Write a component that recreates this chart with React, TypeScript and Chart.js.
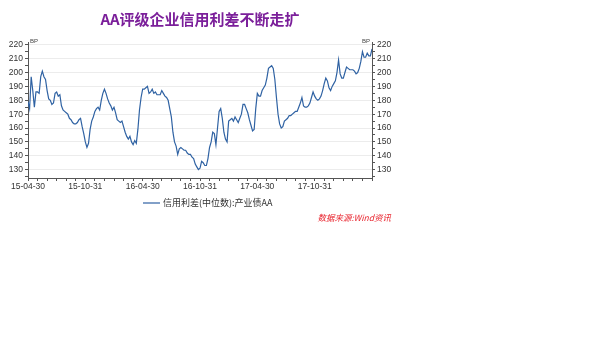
import { useEffect, useRef } from 'react';
import { Chart, registerables } from 'chart.js';

Chart.register(...registerables);

const TITLE = 'AA评级企业信用利差不断走扩';
const SERIES_NAME = '信用利差(中位数):产业债AA';
const SOURCE = '数据来源:Wind资讯';
const UNIT = 'BP';

// x-axis: months since 15-04-30, labelled every 6 months
const X_TICK_LABELS = ['15-04-30', '15-10-31', '16-04-30', '16-10-31', '17-04-30', '17-10-31'];
const MONTHS_PER_LABEL = 6;
const TOTAL_MONTHS = 36;
const POINTS_PER_MONTH = 6;

const Y_MIN = 124;
const Y_MAX = 222;
const Y_TICKS = [125, 130, 135, 140, 145, 150, 155, 160, 165, 170, 175, 180, 185, 190, 195, 200, 205, 210, 215, 220];

// credit spread (BP), roughly every 5 days
const spreadValues = [
  179, 174, 197, 187, 175, 186, 186, 185, 197, 201,
  197, 195, 187, 181, 180, 177, 178, 185, 186, 183,
  184, 176, 173, 172, 171, 170, 167, 166, 164, 163,
  163, 164, 166, 167, 161, 156, 150, 146, 149, 159,
  165, 168, 172, 174, 175, 173, 180, 185, 188, 185,
  181, 178, 176, 173, 175, 171, 166, 165, 164, 165,
  161, 157, 154, 152, 154, 150, 148, 151, 149, 159,
  173, 182, 188, 188, 189, 190, 185, 186, 188, 185,
  186, 184, 184, 184, 187, 185, 183, 182, 180, 174,
  168, 157, 150, 147, 141, 145, 146, 145, 144, 144,
  142, 141, 141, 139, 138, 134, 132, 130, 131, 136,
  135, 133, 133, 138, 146, 150, 157, 156, 148, 160,
  172, 174, 167, 157, 152, 150, 165, 166, 167, 165,
  168, 166, 164, 167, 170, 177, 177, 174, 171, 166,
  162, 158, 159, 174, 185, 183, 183, 187, 189, 191,
  196, 203, 204, 205, 203, 195, 182, 170, 163, 160,
  161, 165, 166, 167, 169, 169, 170, 171, 172, 172,
  175, 178, 182, 176, 175, 175, 176, 178, 182, 186,
  183, 181, 180, 181, 183, 187, 192, 196, 194, 189,
  187, 190, 192, 194, 200, 209, 199, 196, 196, 200,
  204, 203, 202, 202, 202, 201, 199, 200, 203, 208,
  215, 211, 211, 214, 212, 212, 217,
];

const LINE_COLOR = '#2f62a3';

export default function App() {
  const ref = useRef<HTMLCanvasElement | null>(null);

  useEffect(() => {
    document.body.style.margin = '0';
    const canvas = ref.current;
    if (!canvas) return;

    const textPlugin = {
      id: 'texts',
      afterDraw(chart: any) {
        const c = chart.ctx;
        const area = chart.chartArea;
        c.save();
        // title
        c.fillStyle = '#7b1f9a';
        c.font = 'bold 15px "Noto Sans CJK SC", sans-serif';
        c.textAlign = 'center';
        c.textBaseline = 'middle';
        c.fillText(TITLE, (area.left + area.right) / 2, 19);
        // unit labels
        c.fillStyle = '#444';
        c.font = '6px "Liberation Sans", sans-serif';
        c.textAlign = 'left';
        c.fillText(UNIT, area.left + 2, area.top - 1);
        c.textAlign = 'right';
        c.fillText(UNIT, area.right - 2, area.top - 1);
        // legend
        const ly = 203;
        c.strokeStyle = LINE_COLOR;
        c.lineWidth = 1.2;
        c.beginPath();
        c.moveTo(143, ly);
        c.lineTo(160, ly);
        c.stroke();
        c.fillStyle = '#333';
        c.font = '9px "Noto Sans CJK SC", sans-serif';
        c.textAlign = 'left';
        c.fillText(SERIES_NAME, 163, ly);
        // source
        c.fillStyle = '#e8202a';
        c.font = 'italic 8.5px "Noto Sans CJK SC", sans-serif';
        c.textAlign = 'right';
        c.fillText(SOURCE, 391, 218);
        c.restore();
      },
    };

    const tickFont = { family: '"Liberation Sans", Arial, sans-serif', size: 8.5 };

    const chart = new Chart(canvas, {
      type: 'line',
      data: {
        datasets: [
          {
            label: SERIES_NAME,
            data: spreadValues.map((v, i) => ({ x: i / POINTS_PER_MONTH, y: v })),
            borderColor: LINE_COLOR,
            borderWidth: 1.2,
            pointRadius: 0,
            tension: 0,
            fill: false,
          },
        ],
      },
      options: {
        animation: false,
        responsive: false,
        devicePixelRatio: 1,
        layout: { padding: { top: 42, left: 0, right: 0, bottom: 0 } },
        plugins: {
          legend: { display: false },
          title: { display: false },
          tooltip: { enabled: false },
        },
        scales: {
          x: {
            type: 'linear',
            min: 0,
            max: TOTAL_MONTHS,
            afterBuildTicks: (scale: any) => {
              const t = [];
              for (let m = 0; m <= TOTAL_MONTHS; m++) t.push({ value: m });
              scale.ticks = t;
            },
            afterFit: (scale: any) => {
              scale.height = 337 - 178;
            },
            ticks: {
              autoSkip: false,
              maxRotation: 0,
              padding: 1,
              color: '#333',
              font: tickFont,
              callback: (v: any) => {
                const n = Number(v);
                if (n % MONTHS_PER_LABEL !== 0) return '';
                return X_TICK_LABELS[n / MONTHS_PER_LABEL] ?? '';
              },
            },
            grid: { drawOnChartArea: false, drawTicks: true, tickLength: 3, tickColor: '#555' },
            border: { display: true, color: '#555', width: 1 },
          },
          y: {
            type: 'linear',
            position: 'left',
            min: Y_MIN,
            max: Y_MAX,
            afterBuildTicks: (scale: any) => {
              scale.ticks = Y_TICKS.map((v) => ({ value: v }));
            },
            afterFit: (scale: any) => {
              scale.width = 28;
            },
            ticks: {
              autoSkip: false,
              padding: 2,
              color: '#333',
              font: tickFont,
              callback: (v: any) => (Number(v) % 10 === 0 ? String(v) : ''),
            },
            grid: {
              drawOnChartArea: true,
              tickLength: 3,
              tickColor: '#555',
              color: (ctx: any) =>
                ctx.tick && ctx.tick.value % 10 === 0 ? '#ececec' : 'rgba(0,0,0,0)',
            },
            border: { display: true, color: '#555', width: 1 },
          },
          y2: {
            type: 'linear',
            position: 'right',
            min: Y_MIN,
            max: Y_MAX,
            afterBuildTicks: (scale: any) => {
              scale.ticks = Y_TICKS.map((v) => ({ value: v }));
            },
            afterFit: (scale: any) => {
              scale.width = 600 - 372;
            },
            ticks: {
              autoSkip: false,
              padding: 2,
              color: '#333',
              font: tickFont,
              callback: (v: any) => (Number(v) % 10 === 0 ? String(v) : ''),
            },
            grid: { drawOnChartArea: false, tickLength: 3, tickColor: '#555' },
            border: { display: true, color: '#555', width: 1 },
          },
        },
      },
      plugins: [textPlugin],
    });

    return () => chart.destroy();
  }, []);

  return (
    <div style={{ width: 600, height: 337, background: '#fff' }}>
      <canvas ref={ref} width={600} height={337} style={{ display: 'block', width: 600, height: 337 }} />
    </div>
  );
}
